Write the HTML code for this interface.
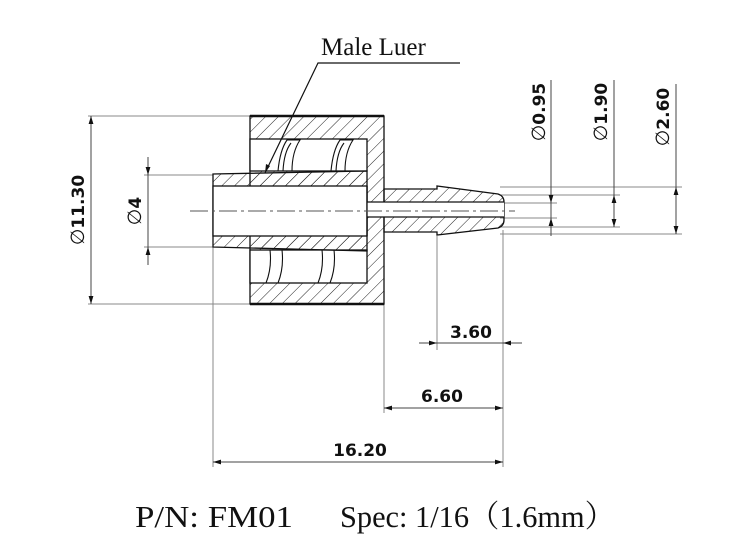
<!DOCTYPE html>
<html><head><meta charset="utf-8"><style>
html,body{margin:0;padding:0;background:#fff;}
svg{display:block;}
.d{font-family:"DejaVu Sans","Liberation Sans",sans-serif;font-weight:bold;font-size:17px;fill:#111;}
.p{font-weight:normal;font-size:19px;}
</style></head><body>
<svg width="750" height="560" viewBox="0 0 750 560" xmlns="http://www.w3.org/2000/svg">
<defs>
<pattern id="h" patternUnits="userSpaceOnUse" width="9" height="9" patternTransform="rotate(45)">
<line x1="0" y1="0" x2="0" y2="9" stroke="#222" stroke-width="1"/>
</pattern>
<marker id="a" viewBox="0 0 10 6" refX="10" refY="3" markerWidth="8" markerHeight="5" orient="auto-start-reverse" markerUnits="userSpaceOnUse">
<path d="M0,0 L10,3 L0,6 z" fill="#111"/>
</marker>
</defs>
<g stroke="#888" stroke-width="1" fill="none">
<line x1="88" y1="116" x2="250" y2="116"/>
<line x1="88" y1="304" x2="250" y2="304"/>
<line x1="144" y1="175" x2="213" y2="175"/>
<line x1="144" y1="247" x2="213" y2="247"/>
<line x1="500" y1="187" x2="682" y2="187"/>
<line x1="500" y1="195" x2="620" y2="195"/>
<line x1="500" y1="203" x2="557" y2="203"/>
<line x1="500" y1="218" x2="557" y2="218"/>
<line x1="500" y1="227" x2="620" y2="227"/>
<line x1="500" y1="234" x2="682" y2="234"/>
<line x1="437" y1="236" x2="437" y2="350"/>
<line x1="503" y1="230" x2="503" y2="467"/>
<line x1="384" y1="304" x2="384" y2="413"/>
<line x1="213" y1="247" x2="213" y2="467"/>
</g>
<g stroke="#444" stroke-width="1" fill="none">
<line x1="91" y1="116" x2="91" y2="304" marker-start="url(#a)" marker-end="url(#a)"/>
<line x1="148" y1="157" x2="148" y2="175" marker-end="url(#a)"/>
<line x1="148" y1="175" x2="148" y2="247"/>
<line x1="148" y1="265" x2="148" y2="247" marker-end="url(#a)"/>
<line x1="551" y1="80" x2="551" y2="203" marker-end="url(#a)"/>
<line x1="551" y1="236" x2="551" y2="218" marker-end="url(#a)"/>
<line x1="551" y1="203" x2="551" y2="218"/>
<line x1="614" y1="80" x2="614" y2="227"/>
<line x1="614" y1="211" x2="614" y2="195" marker-end="url(#a)"/>
<line x1="614" y1="211" x2="614" y2="227" marker-end="url(#a)"/>
<line x1="676" y1="84" x2="676" y2="234"/>
<line x1="676" y1="211" x2="676" y2="187" marker-end="url(#a)"/>
<line x1="676" y1="211" x2="676" y2="234" marker-end="url(#a)"/>
<line x1="419" y1="343" x2="437" y2="343" marker-end="url(#a)"/>
<line x1="437" y1="343" x2="503" y2="343"/>
<line x1="522" y1="343" x2="503" y2="343" marker-end="url(#a)"/>
<line x1="384" y1="408" x2="503" y2="408" marker-start="url(#a)" marker-end="url(#a)"/>
<line x1="213" y1="462" x2="503" y2="462" marker-start="url(#a)" marker-end="url(#a)"/>
</g>
<g stroke="#111" stroke-width="1.3">
<rect x="250" y="116" width="134" height="188" fill="url(#h)"/>
<line x1="250" y1="116" x2="384" y2="116" stroke-width="2.5"/>
<line x1="250" y1="304" x2="384" y2="304" stroke-width="2.5"/>
<rect x="250" y="139" width="117" height="32" fill="#fff"/>
<rect x="250" y="250" width="117" height="33" fill="#fff"/>
<path d="M384,189 L437,189 L437,186 L498,194 Q504,196 504,202 L504,220 Q504,226 498,228 L437,235 L437,232 L384,232 Z" fill="url(#h)"/>
<path d="M213,174 L367,171 L367,251 L213,247 Z" fill="url(#h)"/>
<rect x="213" y="186" width="154" height="50" fill="#fff"/>
<rect x="367" y="202" width="137" height="15" fill="#fff" stroke="none"/>
<line x1="367" y1="202" x2="504" y2="202"/>
<line x1="367" y1="217" x2="504" y2="217"/>
<line x1="367" y1="186" x2="367" y2="236"/>
</g>
<g stroke="#111" stroke-width="1.1" fill="none">
<path d="M278,171 Q280,150 287,140 L300,140 Q292,152 292,171"/>
<path d="M283,171 Q284,152 291,143"/>
<path d="M331,171 Q333,150 340,140 L353,140 Q345,152 345,171"/>
<path d="M336,171 Q337,152 344,143"/>
<path d="M270,250 Q272,268 266,283"/>
<path d="M282,250 Q284,268 278,283"/>
<path d="M322,250 Q324,268 318,283"/>
<path d="M334,250 Q336,268 330,283"/>
</g>
<line x1="190" y1="211" x2="515" y2="211" stroke="#555" stroke-width="0.9" stroke-dasharray="18,4,3,4"/>
<polyline points="460,63 318,63 265,173" fill="none" stroke="#111" stroke-width="1.2"/>
<path d="M265,173 L266,164 L270,166 Z" fill="#111"/>
<text x="321" y="55" font-family="Liberation Serif,serif" font-size="25" fill="#111">Male Luer</text>
<text class="d" transform="translate(84,210) rotate(-90)" text-anchor="middle"><tspan class="p">∅</tspan>11.30</text>
<text class="d" transform="translate(141,211) rotate(-90)" text-anchor="middle"><tspan class="p">∅</tspan>4</text>
<text class="d" transform="translate(545,112) rotate(-90)" text-anchor="middle"><tspan class="p">∅</tspan>0.95</text>
<text class="d" transform="translate(607,112) rotate(-90)" text-anchor="middle"><tspan class="p">∅</tspan>1.90</text>
<text class="d" transform="translate(669,117) rotate(-90)" text-anchor="middle"><tspan class="p">∅</tspan>2.60</text>
<text class="d" x="471" y="338" text-anchor="middle">3.60</text>
<text class="d" x="442" y="402" text-anchor="middle">6.60</text>
<text class="d" x="360" y="456" text-anchor="middle">16.20</text>
<text x="135" y="527" font-family="Liberation Serif,serif" font-size="31" fill="#111" textLength="158" lengthAdjust="spacingAndGlyphs">P/N: FM01</text>
<text x="340" y="527" font-family="Liberation Serif,'Noto Serif CJK SC',serif" font-size="31" fill="#111" textLength="275" lengthAdjust="spacingAndGlyphs">Spec: 1/16（1.6mm）</text>
</svg>
</body></html>
